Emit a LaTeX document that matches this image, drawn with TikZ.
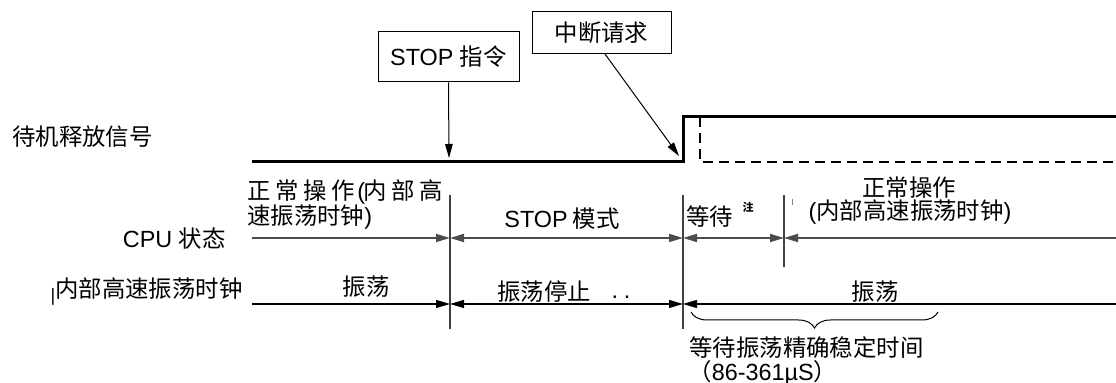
\documentclass[tikz,border=0pt]{standalone}
\usepackage{fontspec}
\setmainfont{Liberation Sans}
\newfontfamily\cjk{Noto Sans CJK SC}
\usetikzlibrary{arrows.meta,decorations.pathreplacing}
\begin{document}
\begin{tikzpicture}[x=0.5pt,y=-0.5pt,
  txt/.style={inner sep=0pt, font=\fontsize{11.7}{14}\selectfont},
  box/.style={draw, line width=0.5pt, inner sep=0pt, font=\fontsize{11.7}{14}\selectfont},
  sig/.style={line width=1.5pt},
  sigdash/.style={line width=1.3pt, dash pattern=on 5pt off 3pt},
  pointer/.style={line width=0.5pt, -{Triangle[length=7pt,width=3.8pt]}},
  rowcpu/.style={line width=0.9pt, black!70},
  rowclk/.style={line width=0.6pt, black},
  vline/.style={line width=0.6pt, black!75},
  tipR/.style={-{Triangle[length=7pt,width=4pt]}},
  tipL/.style={{Triangle[length=7pt,width=4pt]}-},
  tipLR/.style={{Triangle[length=7pt,width=4pt]}-{Triangle[length=7pt,width=4pt]}}
]
\useasboundingbox (0,0) rectangle (1116,383);

% boxes
\node[box, minimum width=70.5pt, minimum height=25pt] (stopbox) at (448.5,57) {STOP {\cjk 指令}};
\node[box, minimum width=69.5pt, minimum height=21pt] (irq) at (601.5,33) {{\cjk 中断请求}};

% coordinates
\coordinate (stopT) at (449,158);
\coordinate (irqS) at (605,54);
\coordinate (irqT) at (679,156);

% pointers
\draw[pointer] (stopbox.south) -- (stopT);
\draw[pointer] (irqS) -- (irqT);

% standby release signal
\coordinate (s0) at (252,162);
\coordinate (s1) at (683,162);
\coordinate (s2) at (683,117);
\coordinate (s3) at (1116,117);
\coordinate (d0) at (700,117);
\coordinate (d1) at (700,162);
\coordinate (d2) at (1116,162);
\draw[sig] (s0) -- (s1) -- (s2) -- (s3);
\draw[sigdash] (d0) -- (d1) -- (d2);

% vertical lines
\coordinate (v1t) at (450,195); \coordinate (v1b) at (450,329);
\coordinate (v2t) at (683,195); \coordinate (v2b) at (683,329);
\coordinate (v3t) at (784,195); \coordinate (v3b) at (784,267);
\draw[vline] (v1t) -- (v1b);
\draw[vline] (v2t) -- (v2b);
\draw[vline] (v3t) -- (v3b);
\coordinate (tick1) at (792,199); \coordinate (tick2) at (792,205);
\draw[line width=0.4pt, black!50] (tick1) -- (tick2);

% CPU row
\coordinate (c0) at (252,238);
\coordinate (c1) at (450,238);
\coordinate (c2) at (683,238);
\coordinate (c3) at (784,238);
\coordinate (c4) at (1116,238);
\draw[rowcpu, tipR] (c0) -- (c1);
\draw[rowcpu, tipLR] (c1) -- (c2);
\draw[rowcpu, tipLR] (c2) -- (c3);
\draw[rowcpu, tipL] (c3) -- (c4);

% clock row
\coordinate (k0) at (252,304);
\coordinate (k1) at (450,304);
\coordinate (k2) at (683,304);
\coordinate (k3) at (1116,304);
\draw[rowclk, tipR] (k0) -- (k1);
\draw[rowclk, tipLR] (k1) -- (k2);
\draw[rowclk, tipL] (k2) -- (k3);

% left labels
\node[txt, anchor=west] (sigl) at (12,137) {\cjk 待机释放信号};
\node[txt, anchor=east] (cpul) at (226,239) {CPU {\cjk 状态}};
\node[txt, anchor=east] (clkl) at (243,292) {{\fontsize{9}{10}\selectfont\raisebox{-2pt}{|}}{\cjk 内部高速振荡时钟}};

% CPU row texts
\node[txt, anchor=west] (n1a) at (247,192) {{\cjk 正\kern2.4pt 常\kern2.4pt 操\kern2.4pt 作}\kern1pt(\kern-1pt{\cjk 内\kern2.4pt 部\kern2.4pt 高}};
\node[txt, anchor=west] (n1b) at (247,217) {{\cjk 速振荡时钟})};
\node[txt] (stopm) at (562,219) {STOP\kern2.5pt{\cjk 模式}};
\node[txt, anchor=west] (wait) at (686,217) {\cjk 等待};
\node[inner sep=0pt, font=\fontsize{5.5}{6}\selectfont] (note) at (748,207) {\cjk\bfseries 注};
\node[txt] (n2a) at (909,188) {\cjk 正常操作};
\node[txt] (n2b) at (910,212) {({\cjk 内部高速振荡时钟})};

% clock row texts
\node[txt] (osc1) at (366,287) {\cjk 振荡};
\node[txt] (oscstop) at (544,292) {\cjk 振荡停止};
\node[txt] (dots) at (621,297) {.\kern3pt.};
\node[txt] (osc2) at (875,292) {\cjk 振荡};

% brace
\coordinate (b0) at (691,312);
\coordinate (b1) at (938,312);
\draw[line width=0.5pt, decorate, decoration={brace, mirror, amplitude=8pt}] (b0) -- (b1);
\node[txt, anchor=west] (wt1) at (689,348) {\cjk 等待振荡精确稳定时间};
\node[txt, anchor=west] (wt2) at (688,373) {{\cjk （}86-361µS{\cjk ）}};
\end{tikzpicture}
\end{document}
